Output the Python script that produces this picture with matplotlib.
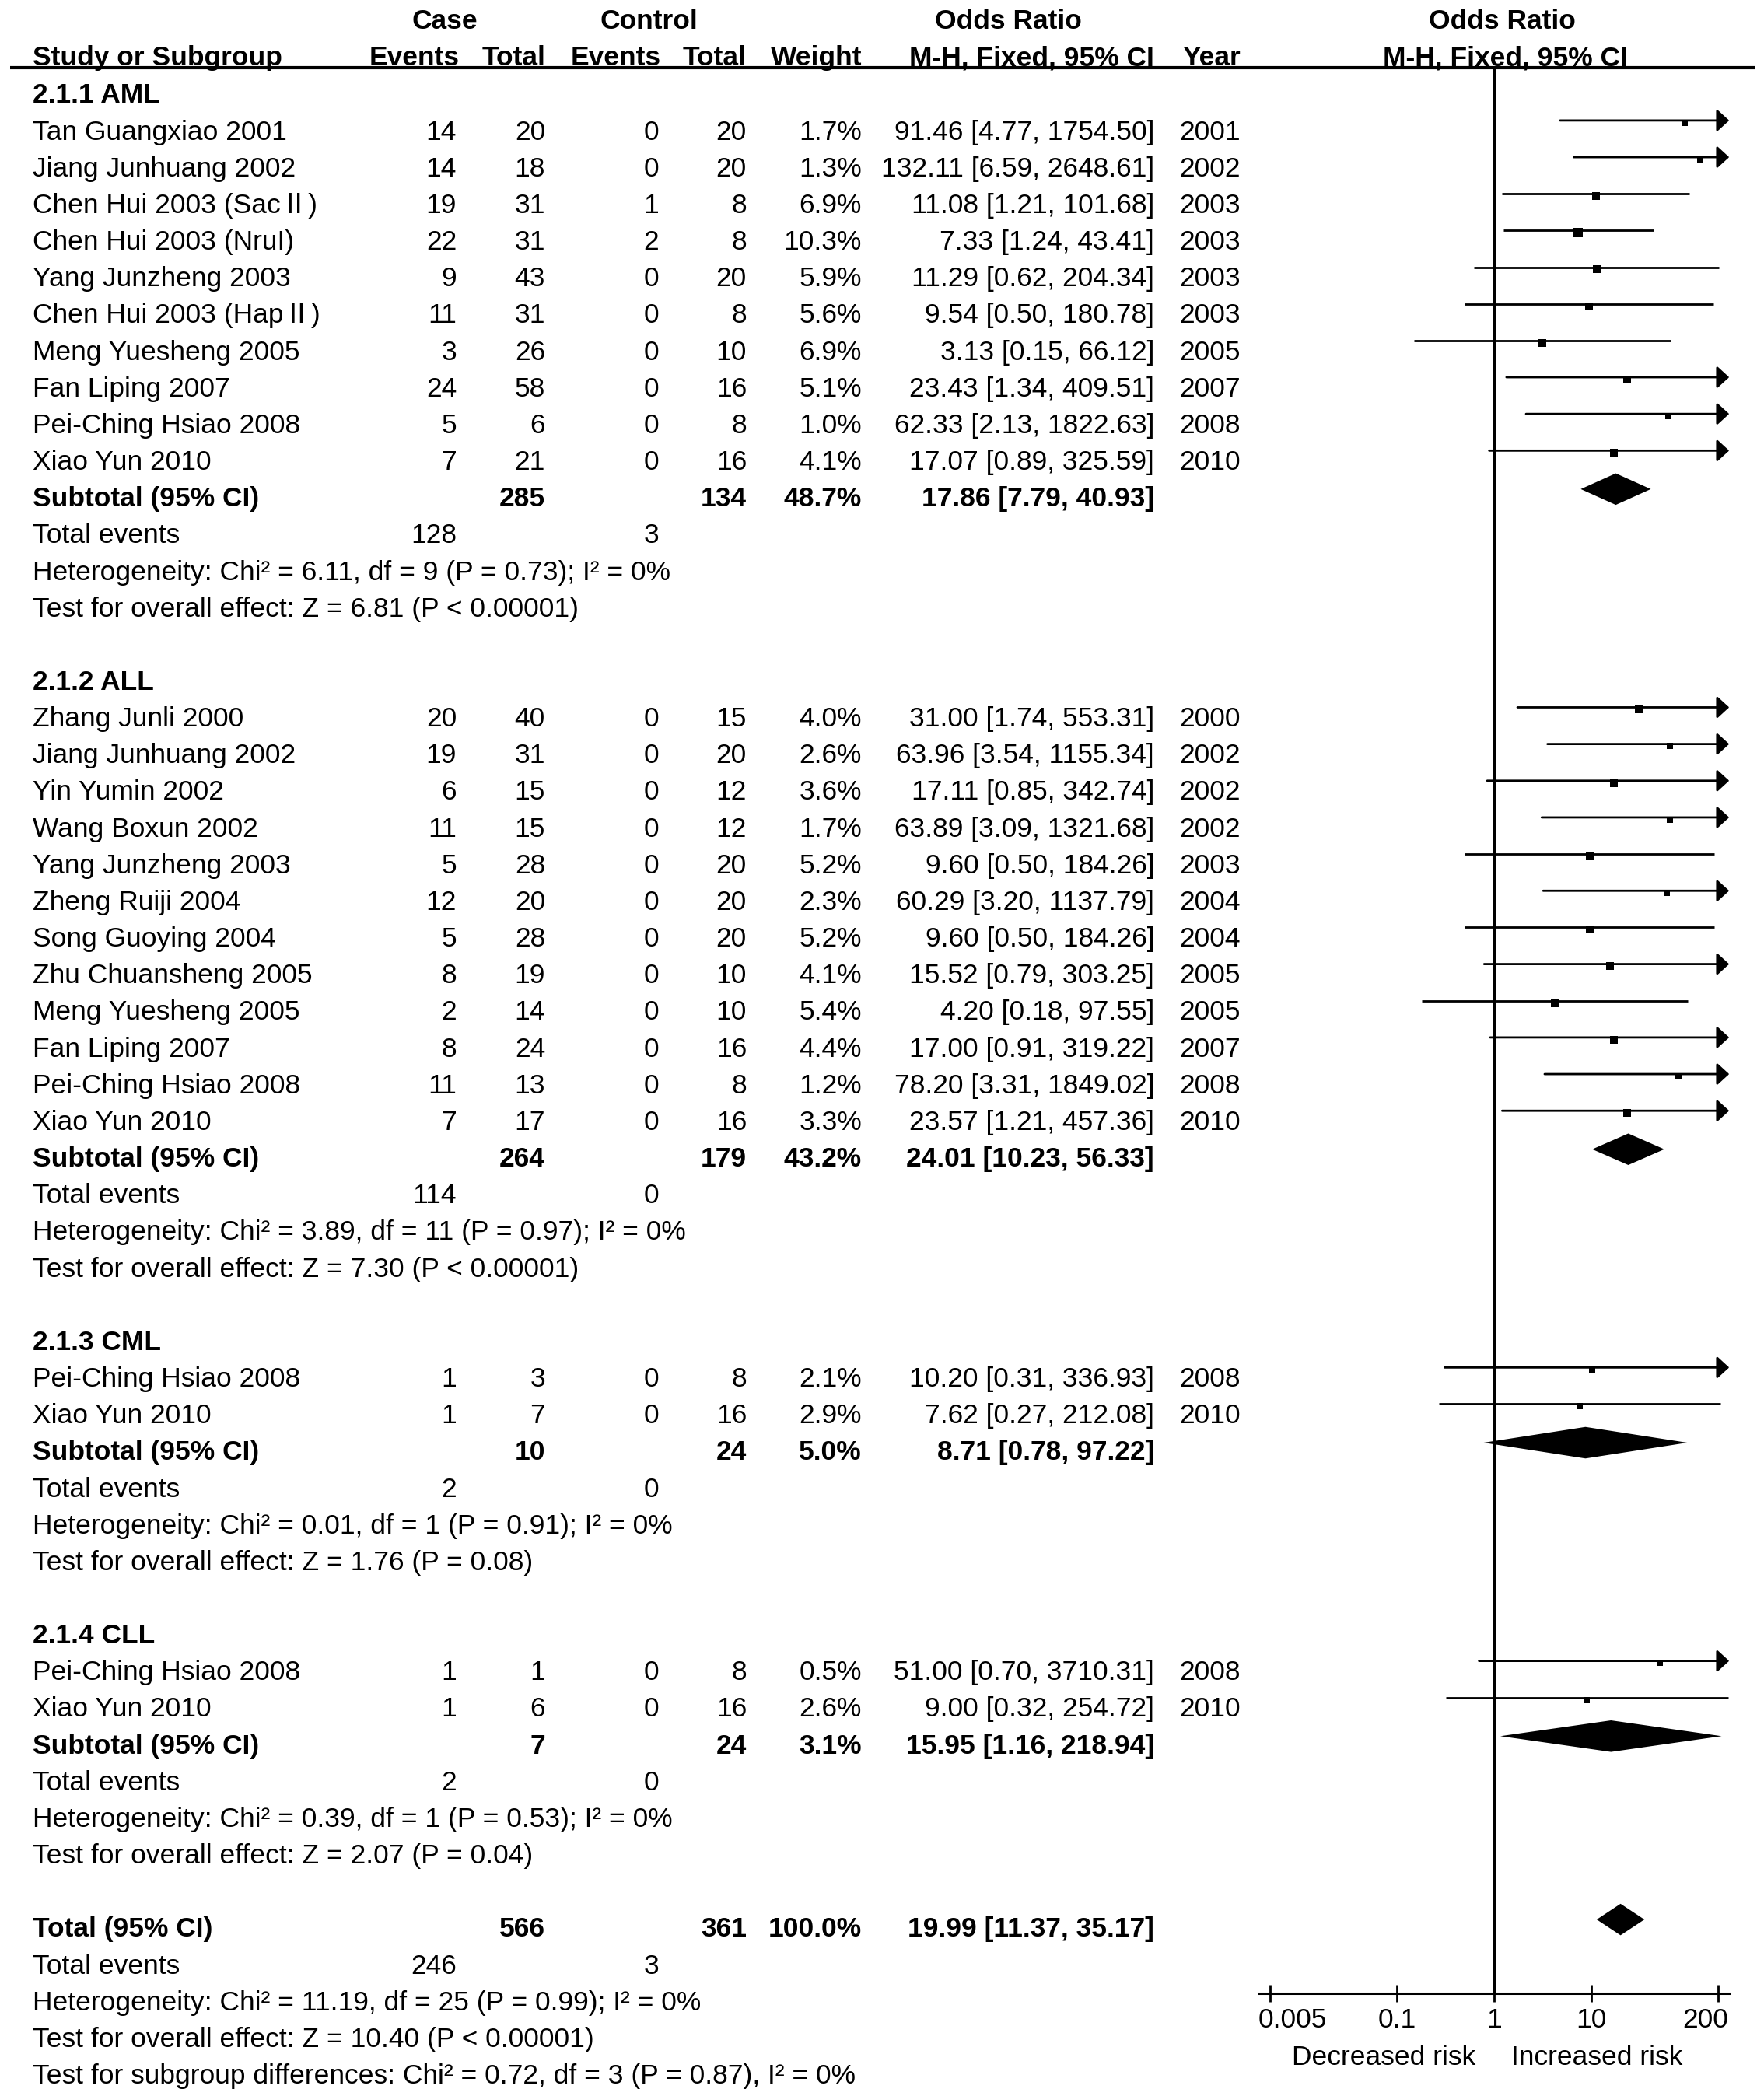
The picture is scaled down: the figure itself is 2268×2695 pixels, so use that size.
import numpy as np
import matplotlib.pyplot as plt
from matplotlib.ticker import NullLocator
from matplotlib.transforms import ScaledTranslation

plt.rcParams['font.family'] = ['Liberation Sans', 'Noto Sans CJK SC', 'DejaVu Sans']

# ---- data ----
subgroups = ['2.1.1 AML', '2.1.2 ALL', '2.1.3 CML', '2.1.4 CLL']

study_names = [
    'Tan Guangxiao 2001', 'Jiang Junhuang 2002', 'Chen Hui 2003 (Sac\u2161)',
    'Chen Hui 2003 (NruI)', 'Yang Junzheng 2003', 'Chen Hui 2003 (Hap\u2161)',
    'Meng Yuesheng 2005', 'Fan Liping 2007', 'Pei-Ching Hsiao 2008', 'Xiao Yun 2010',
    'Zhang Junli 2000', 'Jiang Junhuang 2002', 'Yin Yumin 2002', 'Wang Boxun 2002',
    'Yang Junzheng 2003', 'Zheng Ruiji 2004', 'Song Guoying 2004', 'Zhu Chuansheng 2005',
    'Meng Yuesheng 2005', 'Fan Liping 2007', 'Pei-Ching Hsiao 2008', 'Xiao Yun 2010',
    'Pei-Ching Hsiao 2008', 'Xiao Yun 2010',
    'Pei-Ching Hsiao 2008', 'Xiao Yun 2010',
]
study_group = [0, 0, 0, 0, 0, 0, 0, 0, 0, 0,
               1, 1, 1, 1, 1, 1, 1, 1, 1, 1, 1, 1,
               2, 2,
               3, 3]
case_events = [14, 14, 19, 22, 9, 11, 3, 24, 5, 7,
               20, 19, 6, 11, 5, 12, 5, 8, 2, 8, 11, 7,
               1, 1,
               1, 1]
case_total = [20, 18, 31, 31, 43, 31, 26, 58, 6, 21,
              40, 31, 15, 15, 28, 20, 28, 19, 14, 24, 13, 17,
              3, 7,
              1, 6]
ctrl_events = [0, 0, 1, 2, 0, 0, 0, 0, 0, 0,
               0, 0, 0, 0, 0, 0, 0, 0, 0, 0, 0, 0,
               0, 0,
               0, 0]
ctrl_total = [20, 20, 8, 8, 20, 8, 10, 16, 8, 16,
              15, 20, 12, 12, 20, 20, 20, 10, 10, 16, 8, 16,
              8, 16,
              8, 16]
weight = [1.7, 1.3, 6.9, 10.3, 5.9, 5.6, 6.9, 5.1, 1.0, 4.1,
          4.0, 2.6, 3.6, 1.7, 5.2, 2.3, 5.2, 4.1, 5.4, 4.4, 1.2, 3.3,
          2.1, 2.9,
          0.5, 2.6]
odds = [91.46, 132.11, 11.08, 7.33, 11.29, 9.54, 3.13, 23.43, 62.33, 17.07,
        31.00, 63.96, 17.11, 63.89, 9.60, 60.29, 9.60, 15.52, 4.20, 17.00, 78.20, 23.57,
        10.20, 7.62,
        51.00, 9.00]
ci_low = [4.77, 6.59, 1.21, 1.24, 0.62, 0.50, 0.15, 1.34, 2.13, 0.89,
          1.74, 3.54, 0.85, 3.09, 0.50, 3.20, 0.50, 0.79, 0.18, 0.91, 3.31, 1.21,
          0.31, 0.27,
          0.70, 0.32]
ci_high = [1754.50, 2648.61, 101.68, 43.41, 204.34, 180.78, 66.12, 409.51, 1822.63, 325.59,
           553.31, 1155.34, 342.74, 1321.68, 184.26, 1137.79, 184.26, 303.25, 97.55, 319.22,
           1849.02, 457.36,
           336.93, 212.08,
           3710.31, 254.72]
years = [2001, 2002, 2003, 2003, 2003, 2003, 2005, 2007, 2008, 2010,
         2000, 2002, 2002, 2002, 2003, 2004, 2004, 2005, 2005, 2007, 2008, 2010,
         2008, 2010,
         2008, 2010]

sub_case_total = [285, 264, 10, 7]
sub_ctrl_total = [134, 179, 24, 24]
sub_case_events = [128, 114, 2, 2]
sub_ctrl_events = [3, 0, 0, 0]
sub_weight = [48.7, 43.2, 5.0, 3.1]
sub_odds = [17.86, 24.01, 8.71, 15.95]
sub_low = [7.79, 10.23, 0.78, 1.16]
sub_high = [40.93, 56.33, 97.22, 218.94]
sub_het = [
    'Heterogeneity: Chi\u00b2 = 6.11, df = 9 (P = 0.73); I\u00b2 = 0%',
    'Heterogeneity: Chi\u00b2 = 3.89, df = 11 (P = 0.97); I\u00b2 = 0%',
    'Heterogeneity: Chi\u00b2 = 0.01, df = 1 (P = 0.91); I\u00b2 = 0%',
    'Heterogeneity: Chi\u00b2 = 0.39, df = 1 (P = 0.53); I\u00b2 = 0%',
]
sub_test = [
    'Test for overall effect: Z = 6.81 (P < 0.00001)',
    'Test for overall effect: Z = 7.30 (P < 0.00001)',
    'Test for overall effect: Z = 1.76 (P = 0.08)',
    'Test for overall effect: Z = 2.07 (P = 0.04)',
]

total_case, total_ctrl, total_weight = 566, 361, 100.0
total_odds, total_low, total_high = 19.99, 11.37, 35.17
total_case_events, total_ctrl_events = 246, 3
total_het = 'Heterogeneity: Chi\u00b2 = 11.19, df = 25 (P = 0.99); I\u00b2 = 0%'
total_test = 'Test for overall effect: Z = 10.40 (P < 0.00001)'
subgroup_test = 'Test for subgroup differences: Chi\u00b2 = 0.72, df = 3 (P = 0.87), I\u00b2 = 0%'

xticks = [0.005, 0.1, 1, 10, 200]
xtick_labels = ['0.005', '0.1', '1', '10', '200']

# ---- layout (pixels of the 2268 x 2695 picture) ----
W, H = 2268, 2695
ROW0, ROWH = 120, 47.16
FS = 25.5
BASE = 0.716 * 25 * 100 / 72 / 2 / ROWH   # baseline offset so row = cap centre

X_NAME, X_CE, X_CT, X_KE, X_KT, X_W, X_OR, X_YR = 42, 587, 701, 847, 960, 1108, 1484, 1595
AX_X0, AX_W, AX_Y = 1618.7, 604.5, 2563
XLIM = (10 ** -2.418, 10 ** 2.418)

fig = plt.figure(figsize=(W / 100, H / 100), dpi=100)
tab = fig.add_axes([0, 0, 1, 1])
tab.set_xlim(0, W)
tab.set_ylim((H - ROW0) / ROWH, -ROW0 / ROWH)
tab.axis('off')


def put(x, row, s, ha='right', bold=False):
    tab.text(x, row + BASE, s, ha=ha, va='baseline', fontsize=FS,
             fontweight='bold' if bold else 'normal', color='black')


fax = fig.add_axes([AX_X0 / W, 1 - AX_Y / H, AX_W / W, AX_Y / H])
fax.patch.set_visible(False)
fax.set_xscale('log')
fax.set_xlim(*XLIM)
fax.set_ylim((AX_Y - ROW0) / ROWH, -ROW0 / ROWH)

LINE_OFF = -0.26
DIA_OFF = -0.21
DIA_H = 0.43


def ci_line(lo, hi, y):
    if hi > XLIM[1]:
        fax.annotate('', xy=(XLIM[1], y), xytext=(lo, y), annotation_clip=False,
                     arrowprops=dict(arrowstyle='-|>,head_length=0.48,head_width=0.44',
                                     mutation_scale=20, lw=2, color='black',
                                     shrinkA=0, shrinkB=0))
    else:
        fax.plot([lo, hi], [y, y], color='black', lw=2, solid_capstyle='butt')


def diamond(est, lo, hi, row):
    y = row + DIA_OFF
    fax.fill([lo, est, hi, est], [y, y - DIA_H, y, y + DIA_H], color='black', lw=0)


# header
put(572, -2.02, 'Case', ha='center', bold=True)
put(834, -2.02, 'Control', ha='center', bold=True)
put(1296, -2.02, 'Odds Ratio', ha='center', bold=True)
put(1931, -2.02, 'Odds Ratio', ha='center', bold=True)
put(X_NAME, -1.02, 'Study or Subgroup', ha='left', bold=True)
for x, s in [(X_CE + 4, 'Events'), (X_CT, 'Total'), (X_KE + 3, 'Events'), (X_KT, 'Total'),
             (X_W, 'Weight'), (X_OR, 'M-H, Fixed, 95% CI'), (X_YR, 'Year')]:
    put(x, -1.02, s, bold=True)
put(1935, -1.02, 'M-H, Fixed, 95% CI', ha='center', bold=True)
tab.plot([13, 2256], [-0.70, -0.70], color='black', lw=3, solid_capstyle='butt')

row = 0
for g, label in enumerate(subgroups):
    put(X_NAME, row, label, ha='left', bold=True)
    row += 1
    for i in range(len(study_names)):
        if study_group[i] != g:
            continue
        put(X_NAME, row, study_names[i], ha='left')
        put(X_CE, row, str(case_events[i]))
        put(X_CT, row, str(case_total[i]))
        put(X_KE, row, str(ctrl_events[i]))
        put(X_KT, row, str(ctrl_total[i]))
        put(X_W, row, f'{weight[i]:.1f}%')
        put(X_OR, row, f'{odds[i]:.2f} [{ci_low[i]:.2f}, {ci_high[i]:.2f}]')
        put(X_YR, row, str(years[i]))
        y = row + LINE_OFF
        ci_line(ci_low[i], ci_high[i], y)
        side = (6 + 1.7 * np.sqrt(weight[i])) * 72 / 100
        fax.scatter([odds[i]], [y + 0.06], marker='s', s=side ** 2, color='black',
                    lw=0, zorder=3, clip_on=False)
        row += 1
    put(X_NAME, row, 'Subtotal (95% CI)', ha='left', bold=True)
    put(X_CT, row, str(sub_case_total[g]), bold=True)
    put(X_KT, row, str(sub_ctrl_total[g]), bold=True)
    put(X_W, row, f'{sub_weight[g]:.1f}%', bold=True)
    put(X_OR, row, f'{sub_odds[g]:.2f} [{sub_low[g]:.2f}, {sub_high[g]:.2f}]', bold=True)
    diamond(sub_odds[g], sub_low[g], sub_high[g], row)
    row += 1
    put(X_NAME, row, 'Total events', ha='left')
    put(X_CE, row, str(sub_case_events[g]))
    put(X_KE, row, str(sub_ctrl_events[g]))
    row += 1
    put(X_NAME, row, sub_het[g], ha='left')
    row += 1
    put(X_NAME, row, sub_test[g], ha='left')
    row += 2

put(X_NAME, row, 'Total (95% CI)', ha='left', bold=True)
put(X_CT, row, str(total_case), bold=True)
put(X_KT, row, str(total_ctrl), bold=True)
put(X_W, row, f'{total_weight:.1f}%', bold=True)
put(X_OR, row, f'{total_odds:.2f} [{total_low:.2f}, {total_high:.2f}]', bold=True)
diamond(total_odds, total_low, total_high, row)
row += 1
put(X_NAME, row, 'Total events', ha='left')
put(X_CE, row, str(total_case_events))
put(X_KE, row, str(total_ctrl_events))
row += 1
put(X_NAME, row, total_het, ha='left')
row += 1
put(X_NAME, row, total_test, ha='left')
row += 1
put(X_NAME, row, subgroup_test, ha='left')

# forest axis
ylo = (AX_Y - ROW0) / ROWH
fax.plot([1, 1], [-0.70, ylo], color='black', lw=2.4, clip_on=False, solid_capstyle='butt')
for side_name in ['top', 'right', 'left']:
    fax.spines[side_name].set_visible(False)
fax.spines['bottom'].set_linewidth(2.2)
fax.set_yticks([])
fax.set_xticks(xticks)
fax.set_xticklabels(xtick_labels)
fax.xaxis.set_minor_locator(NullLocator())
fax.tick_params(axis='x', which='major', direction='inout', length=16, width=2,
                labelsize=FS, pad=5, colors='black')
# the end labels sit inside the axis line, as in the original
ticklabs = fax.get_xticklabels()
ticklabs[0].set_transform(ticklabs[0].get_transform() + ScaledTranslation(0.28, 0, fig.dpi_scale_trans))
ticklabs[-1].set_transform(ticklabs[-1].get_transform() + ScaledTranslation(-0.16, 0, fig.dpi_scale_trans))

risk_row = (2643 - ROW0) / ROWH
put(1897, risk_row, 'Decreased risk', ha='right')
put(1943, risk_row, 'Increased risk', ha='left')

fig.savefig('out.png', dpi=100, facecolor='white')
